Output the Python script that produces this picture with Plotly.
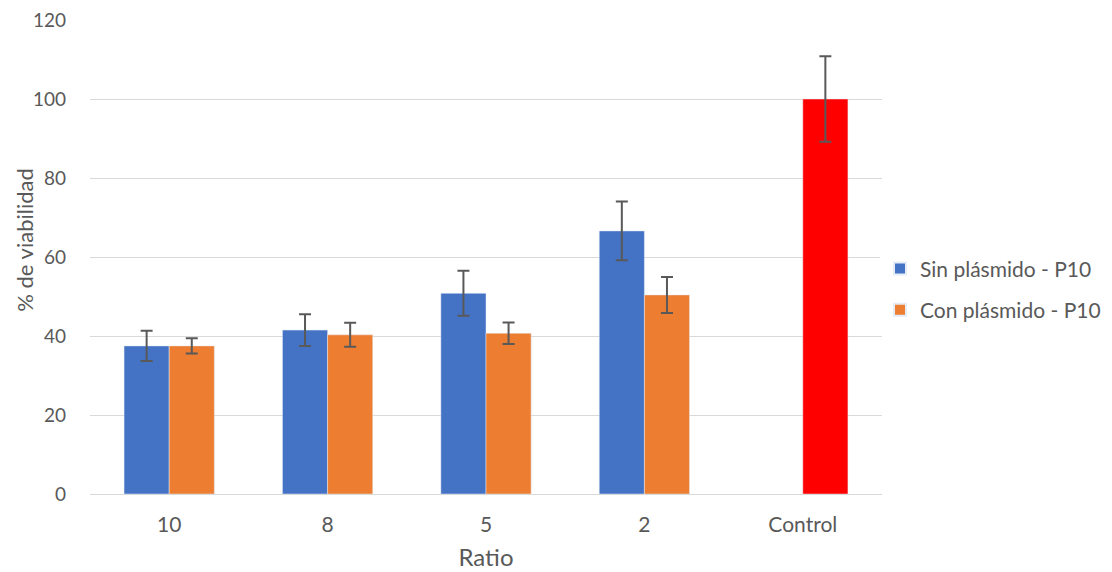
import plotly.graph_objects as go

# Datos
ratios = ['10', '8', '5', '2', 'Control']
sin_plasmido = [37.5, 41.5, 50.8, 66.6, None]
sin_err = [3.85, 4.0, 5.7, 7.45, None]
con_plasmido = [37.5, 40.3, 40.7, 50.4, 100]
con_err = [1.9, 3.05, 2.7, 4.55, 10.8]
con_colors = ['#ED7D31', '#ED7D31', '#ED7D31', '#ED7D31', '#FF0000']

font_family = 'Lato, Open Sans, sans-serif'
grey = '#595959'

fig = go.Figure()

fig.add_trace(go.Bar(
    x=ratios,
    y=sin_plasmido,
    name='Sin plásmido - P10',
    legendgroup='sin',
    marker=dict(color='#4472C4'),
    error_y=dict(type='data', array=sin_err, visible=True,
                 color=grey, thickness=2, width=6),
))

fig.add_trace(go.Bar(
    x=ratios,
    y=con_plasmido,
    name='Con plásmido - P10',
    legendgroup='con',
    marker=dict(color=con_colors),
    error_y=dict(type='data', array=con_err, visible=True,
                 color=grey, thickness=2, width=6),
))

# titulo del eje y como anotacion (un poco por encima del centro, como en el original)
fig.add_annotation(
    text='% de viabilidad',
    xref='paper', yref='paper',
    x=-0.083, y=0.537,
    xanchor='center', yanchor='middle',
    textangle=-90,
    showarrow=False,
    font=dict(size=22, color=grey),
)

fig.update_layout(
    width=1112,
    height=572,
    margin=dict(l=82, r=238, t=12, b=86, autoexpand=False),
    paper_bgcolor='white',
    plot_bgcolor='white',
    barmode='group',
    bargap=0.43,
    bargroupgap=0,
    font=dict(family=font_family, size=20, color=grey),
    showlegend=True,
    legend=dict(
        x=0.9975, y=0.432, xanchor='left', yanchor='middle',
        font=dict(size=21, color=grey),
        tracegroupgap=11,
        itemsizing='constant',
    ),
    xaxis=dict(
        title=dict(text='Ratio', font=dict(size=24, color=grey), standoff=14),
        showgrid=False,
        showline=False,
        ticks='',
        automargin=False,
        ticklabelstandoff=16,
        tickfont=dict(size=21, color=grey),
    ),
    yaxis=dict(
        range=[0, 120],
        dtick=20,
        showgrid=True,
        gridcolor='#D9D9D9',
        gridwidth=1,
        zeroline=True,
        zerolinecolor='#D9D9D9',
        zerolinewidth=1,
        showline=False,
        ticks='',
        automargin=False,
        ticklabelstandoff=23,
        ticklabeloverflow='allow',
        tickfont=dict(size=19, color=grey),
    ),
)

fig.write_html("out.html")
